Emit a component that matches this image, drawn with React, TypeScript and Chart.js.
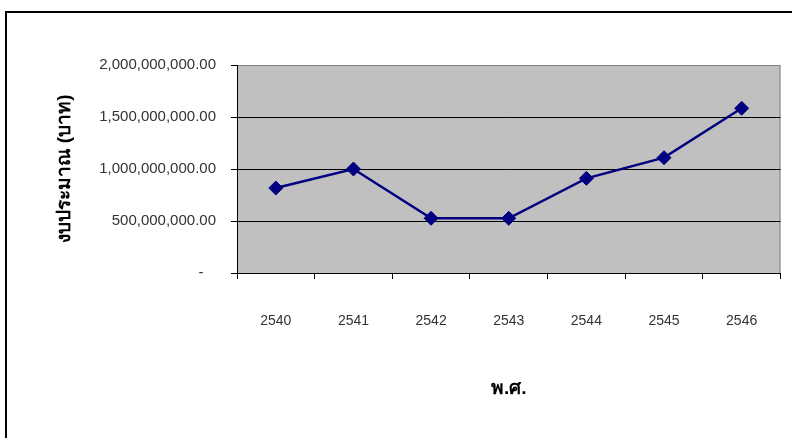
import React, { useEffect, useRef } from "react";
import { Chart, registerables } from "chart.js";

Chart.register(...registerables);

const years = ["2540", "2541", "2542", "2543", "2544", "2545", "2546"];
const budget = [817000000, 1000000000, 526000000, 526000000, 910000000, 1109000000, 1584000000];
const yTicks = [0, 500000000, 1000000000, 1500000000, 2000000000];

const fmt = (v: number) =>
  v === 0
    ? "-   "
    : v.toLocaleString("en-US", { minimumFractionDigits: 2, maximumFractionDigits: 2 });

const framePlugin = {
  id: "frame",
  beforeDraw(chart: any) {
    const { ctx, chartArea } = chart;
    ctx.save();
    ctx.fillStyle = "#ffffff";
    ctx.fillRect(0, 0, chart.width, chart.height);
    // outer frame
    ctx.strokeStyle = "#000";
    ctx.lineWidth = 2;
    ctx.beginPath();
    ctx.moveTo(6, chart.height + 5);
    ctx.lineTo(6, 12);
    ctx.lineTo(chart.width + 5, 12);
    ctx.stroke();
    // plot background
    ctx.fillStyle = "#c0c0c0";
    ctx.fillRect(chartArea.left, chartArea.top, chartArea.right - chartArea.left, chartArea.bottom - chartArea.top);
    ctx.strokeStyle = "#808080";
    ctx.lineWidth = 1;
    ctx.strokeRect(chartArea.left + 0.5, chartArea.top + 0.5, chartArea.right - chartArea.left - 1, chartArea.bottom - chartArea.top);
    ctx.restore();
  },
};

export default function App() {
  const ref = useRef<HTMLCanvasElement>(null);
  useEffect(() => {
    if (!ref.current) return;
    const chart = new Chart(ref.current, {
      type: "line",
      data: {
        labels: years,
        datasets: [
          {
            data: budget,
            borderColor: "#000080",
            backgroundColor: "#000080",
            borderWidth: 2.5,
            pointStyle: "rectRot",
            pointRadius: 7,
            pointHoverRadius: 7,
            pointBorderWidth: 1,
            pointBorderColor: "#000080",
            tension: 0,
          },
        ],
      },
      options: {
        animation: false,
        responsive: false,
        devicePixelRatio: 1,
        layout: { padding: { top: 65, right: 11, left: 0, bottom: 0 } },
        plugins: { legend: { display: false }, tooltip: { enabled: false } },
        scales: {
          x: {
            type: "category",
            offset: true,
            grid: {
              offset: true,
              drawOnChartArea: false,
              drawTicks: true,
              tickLength: 6,
              tickColor: "#000",
            },
            border: { color: "#000", width: 1 },
            ticks: {
              color: "#333",
              font: { family: "'Liberation Sans', Arial, sans-serif", size: 14 },
              padding: 34,
              maxRotation: 0,
            },
            title: {
              display: true,
              text: "พ.ศ.",
              color: "#000",
              font: { family: "'Liberation Sans', Arial, sans-serif", size: 19, weight: "bold" },
              padding: { top: 0, bottom: 38 },
            },
            afterFit: (s: any) => {
              s.height = 165;
            },
          },
          y: {
            min: 0,
            max: 2000000000,
            afterBuildTicks: (s: any) => {
              s.ticks = yTicks.map((v) => ({ value: v }));
            },
            grid: {
              color: (c: any) =>
                c.tick && c.tick.value === 2000000000 ? "#808080" : "#000",
              lineWidth: 1,
              drawTicks: true,
              tickLength: 6,
              tickColor: "#000",
            },
            border: { color: "#000", width: 1 },
            ticks: {
              color: "#333",
              font: { family: "'Liberation Sans', Arial, sans-serif", size: 15 },
              padding: 15,
              callback: (v: any) => fmt(Number(v)),
            },
            title: {
              display: true,
              text: "งบประมาณ (บาท)",
              color: "#000",
              font: { family: "'Liberation Sans', Arial, sans-serif", size: 19, weight: "bold" },
              padding: { top: 53, bottom: 0 },
            },
            afterFit: (s: any) => {
              s.width = 237;
            },
          },
        },
      },
      plugins: [framePlugin],
    });
    return () => chart.destroy();
  }, []);
  return (
    <div style={{ position: "fixed", left: 0, top: 0, width: 792, height: 438 }}>
      <canvas ref={ref} width={792} height={438} style={{ width: 792, height: 438, display: "block" }} />
    </div>
  );
}
